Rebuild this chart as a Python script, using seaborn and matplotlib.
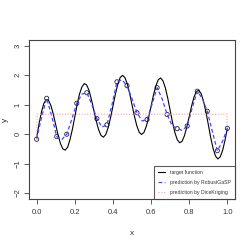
import pandas as pd
import matplotlib
matplotlib.use("Agg")
import matplotlib.pyplot as plt
import seaborn as sns
from matplotlib.lines import Line2D

# target function, every 0.0125
target_x = [i * 0.0125 for i in range(81)]
target_y = [-0.12, 0.35, 0.75, 1.04, 1.18, 1.15, 0.97, 0.68,
            0.32, -0.03, -0.32, -0.50, -0.54, -0.44, -0.18, 0.17,
            0.59, 1.01, 1.37, 1.61, 1.72, 1.67, 1.48, 1.17,
            0.81, 0.45, 0.15, -0.04, -0.10, -0.01, 0.22, 0.56,
            0.95, 1.35, 1.69, 1.92, 2.00, 1.93, 1.71, 1.39,
            1.00, 0.62, 0.29, 0.07, -0.01, 0.06, 0.27, 0.58,
            0.95, 1.33, 1.64, 1.85, 1.91, 1.81, 1.57, 1.22,
            0.81, 0.40, 0.05, -0.19, -0.29, -0.24, -0.05, 0.25,
            0.60, 0.96, 1.26, 1.45, 1.49, 1.38, 1.12, 0.76,
            0.33, -0.11, -0.48, -0.74, -0.84, -0.77, -0.55, -0.21,
            0.20]

# design points
design_x = [0.0, 0.0526, 0.1053, 0.1579, 0.2105, 0.2632, 0.3158, 0.3684,
            0.4211, 0.4737, 0.5263, 0.5789, 0.6316, 0.6842, 0.7368, 0.7895,
            0.8421, 0.8947, 0.9474, 1.0]
design_y = [-0.17, 1.22, -0.08, 0.00, 1.05, 1.41, 0.53, 0.32,
            1.78, 1.65, 0.73, 0.50, 1.58, 0.67, 0.19, 0.28,
            1.46, 0.78, -0.56, 0.20]

# RobustGaSP prediction (design points plus midpoints)
rgasp_x = [0.0, 0.026, 0.0526, 0.079, 0.1053, 0.132, 0.1579, 0.184,
           0.2105, 0.237, 0.2632, 0.29, 0.3158, 0.342, 0.3684, 0.395,
           0.4211, 0.447, 0.4737, 0.5, 0.5263, 0.553, 0.5789, 0.605,
           0.6316, 0.658, 0.6842, 0.71, 0.7368, 0.763, 0.7895, 0.816,
           0.8421, 0.868, 0.8947, 0.921, 0.9474, 0.974, 1.0]
rgasp_y = [-0.17, 0.58, 1.22, 0.62, -0.08, -0.18, 0.00, 0.50,
           1.05, 1.36, 1.41, 1.00, 0.53, 0.24, 0.32, 1.00,
           1.78, 1.85, 1.65, 1.20, 0.73, 0.45, 0.50, 1.02,
           1.58, 1.20, 0.67, 0.30, 0.19, 0.13, 0.28, 0.90,
           1.46, 1.22, 0.78, 0.10, -0.56, -0.25, 0.20]

# DiceKriging prediction
dk_x = [0.0, 0.003, 0.997, 1.0]
dk_y = [-0.17, 0.68, 0.68, 0.20]

sns.set_style("white")
plt.rcParams['font.family'] = ['Liberation Sans', 'DejaVu Sans']

fig = plt.figure(figsize=(2.49, 2.49), dpi=100)
ax = fig.add_axes([0.1165, 0.2008, 0.8273, 0.6386])

sns.lineplot(x=target_x, y=target_y, ax=ax, color="black", lw=0.8, sort=False)
sns.lineplot(x=rgasp_x, y=rgasp_y, ax=ax, color="#4444ff", lw=0.9,
             linestyle=(0, (3, 2)), sort=False)
sns.lineplot(x=dk_x, y=dk_y, ax=ax, color="#f2a0a0", lw=0.8,
             linestyle=(0, (1, 1.5)), sort=False)
sns.scatterplot(x=design_x, y=design_y, ax=ax, marker="o", s=9,
                facecolor="none", edgecolor="#222244", linewidth=0.6)

ax.set_xlim(-0.04, 1.04)
ax.set_ylim(-2.2, 3.2)
ax.set_xticks([0.0, 0.2, 0.4, 0.6, 0.8, 1.0])
ax.set_xticklabels(["0.0", "0.2", "0.4", "0.6", "0.8", "1.0"])
ax.set_yticks([-2, -1, 0, 1, 2, 3])
ax.set_yticklabels(["\u22122", "\u22121", "0", "1", "2", "3"], rotation=90, va="center")
ax.tick_params(direction="out", length=3.5, width=0.6, labelsize=5.5,
               color="#444444", labelcolor="#333333",
               bottom=True, left=True)
ax.tick_params(axis="x", pad=4)
ax.tick_params(axis="y", pad=2)
for sp in ax.spines.values():
    sp.set_color("#444444")
    sp.set_linewidth(0.8)
ax.set_xlabel("x", fontsize=6, color="#333333", va="center")
ax.set_ylabel("y", fontsize=6, color="#333333", va="center")
ax.xaxis.set_label_coords(0.5, -0.214)
ax.yaxis.set_label_coords(-0.112, 0.5)

handles = [Line2D([], [], color="black", lw=0.8),
           Line2D([], [], color="#4444ff", lw=0.9, linestyle=(0, (3, 2))),
           Line2D([], [], color="#f2a0a0", lw=0.8, linestyle=(0, (1, 1.5)))]
labels = ["target function", "prediction by RobustGaSP", "prediction by DiceKriging"]
leg = ax.legend(handles, labels, loc="lower right", fontsize=3.7, frameon=True,
                fancybox=False, borderaxespad=0, handlelength=1.4,
                handletextpad=1.0, borderpad=0.8, labelspacing=1.0)
leg.get_frame().set_edgecolor("#333333")
leg.get_frame().set_linewidth(0.8)
for t in leg.get_texts():
    t.set_color("#333333")

fig.savefig("out.png", dpi=100)
